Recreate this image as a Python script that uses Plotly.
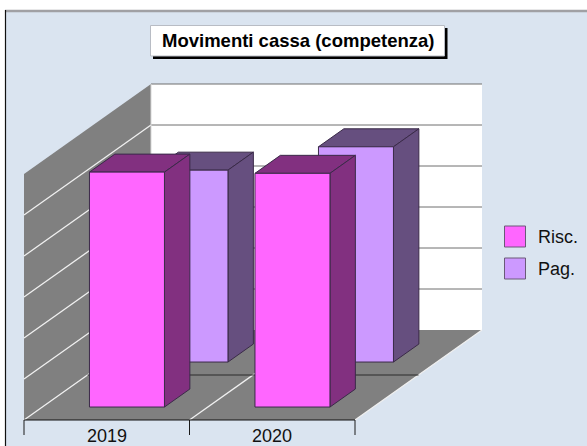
import plotly.graph_objects as go

# ---- data -------------------------------------------------------------
categories = ["2019", "2020"]
series_names = ["Risc.", "Pag."]
risc_values = [5730, 5700]
pag_values = [4680, 5250]
axis_max = 6000
grid_step = 1000

# ---- style ------------------------------------------------------------
BG = "#DAE4F0"
WALL = "#808080"
FRONT = {"Risc.": "#FF66FF", "Pag.": "#CC99FF"}
SIDE = {"Risc.": "#823080", "Pag.": "#664F7F"}
EDGE = "#3A2A48"
FONT = "Liberation Sans, Arial, sans-serif"

# ---- oblique projection: category position, depth (0-1), value -> page px
X0, Y0 = 24.0, 420.0      # front-left floor corner
CAT_W = 165.5             # width of one category
DX, DY = 127.0, 90.0      # depth shift
H = 246.0                 # wall height
BAR_W = 0.4532            # bar width, in category units
BAR_OFFSET = 0.285        # bar start inside its category
BAR_D = 0.2               # bar depth
ROW_D = [0.144, 0.644]    # depth where each series' row starts


def project(c, d, v):
    return (X0 + c * CAT_W + d * DX, Y0 - d * DY - v / axis_max * H)


def poly(points, fill, name, line=EDGE, width=1):
    pts = [project(*p) for p in points]
    xs = [p[0] for p in pts] + [pts[0][0]]
    ys = [p[1] for p in pts] + [pts[0][1]]
    return go.Scatter(x=xs, y=ys, mode="lines", fill="toself", fillcolor=fill,
                      line=dict(color=line, width=width), name=name,
                      showlegend=False, hoverinfo="skip")


def seg(a, b, color, width=1):
    pa, pb = project(*a), project(*b)
    return go.Scatter(x=[pa[0], pb[0]], y=[pa[1], pb[1]], mode="lines",
                      line=dict(color=color, width=width), showlegend=False,
                      hoverinfo="skip")


n = len(categories)
traces = []
# walls and floor
traces.append(poly([(0, 1, 0), (n, 1, 0), (n, 1, axis_max), (0, 1, axis_max)], "#FFFFFF", "back wall", line="#FFFFFF", width=0))
traces.append(poly([(0, 0, 0), (0, 1, 0), (0, 1, axis_max), (0, 0, axis_max)], WALL, "side wall", line=WALL, width=0))
traces.append(poly([(0, 0, 0), (n, 0, 0), (n, 1, 0), (0, 1, 0)], WALL, "floor", line=WALL, width=0))
# grid
for v in range(grid_step, axis_max + 1, grid_step):
    traces.append(seg((0, 1, v), (n, 1, v), "#6E6E6E", 1))
    if v < axis_max:
        traces.append(seg((0, 0, v), (0, 1, v), "#F0F0F0", 1.3))
traces.append(seg((0, 0, 0), (0, 1, 0), "#F0F0F0", 1.3))
for c in range(1, n + 1):
    traces.append(seg((c, 0, 0), (c, 1, 0), "#F0F0F0", 1.3))
traces.append(seg((0, 1, 0), (0, 1, axis_max), "#D8D8D8", 1))
traces.append(seg((0, 0.5, 0), (n, 0.5, 0), "#2A2A2A", 1))

# bars, back row first
rows = [("Risc.", risc_values, ROW_D[0]), ("Pag.", pag_values, ROW_D[1])]
for name, values, d0 in reversed(rows):
    for i, v in enumerate(values):
        c0 = i + BAR_OFFSET
        c1 = c0 + BAR_W
        d1 = d0 + BAR_D
        traces.append(poly([(c0, d0, v), (c1, d0, v), (c1, d1, v), (c0, d1, v)], SIDE[name], name))
        traces.append(poly([(c1, d0, 0), (c1, d1, 0), (c1, d1, v), (c1, d0, v)], SIDE[name], name))
        traces.append(poly([(c0, d0, 0), (c1, d0, 0), (c1, d0, v), (c0, d0, v)], FRONT[name], name))

# axis line and ticks
for c in range(n + 1):
    xt = project(c, 0, 0)[0]
    traces.append(go.Scatter(x=[xt, xt], y=[Y0, Y0 + 15], mode="lines",
                             line=dict(color="#1A1A1A", width=1), showlegend=False, hoverinfo="skip"))
traces.append(seg((0, 0, 0), (n, 0, 0), "#111111", 1.2))

fig = go.Figure(traces)

annotations = []
for i, label in enumerate(categories):
    annotations.append(dict(x=project(i + 0.5, 0, 0)[0], y=436, text=label, showarrow=False,
                            xref="x", yref="y", xanchor="center", yanchor="middle",
                            font=dict(family=FONT, size=18, color="#111111")))

shapes = [
    # panel borders
    dict(type="rect", xref="x", yref="y", x0=5, x1=587, y0=10, y1=446, fillcolor=BG, line_width=0, layer="below"),
    dict(type="line", xref="x", yref="y", x0=5, x1=587, y0=11, y1=11, line=dict(color="#A0A0A4", width=2.5), layer="below"),
    dict(type="line", xref="x", yref="y", x0=5.5, x1=5.5, y0=10, y1=446, line=dict(color="#111111", width=1.2), layer="below"),
    # title box
    dict(type="rect", xref="x", yref="y", x0=153, x1=447.5, y0=28, y1=59, fillcolor="#000000", line_width=0),
    dict(type="rect", xref="x", yref="y", x0=150.5, x1=444.5, y0=25.5, y1=56, fillcolor="#FFFFFF", line=dict(color="#B8BCC4", width=1)),
]
annotations.append(dict(x=297.5, y=40.5, text="<b>Movimenti cassa (competenza)</b>", showarrow=False,
                        xref="x", yref="y", xanchor="center", yanchor="middle",
                        font=dict(family=FONT, size=18.5, color="#000000")))

# legend
for k, name in enumerate(series_names):
    y0 = 226 + k * 32
    shapes.append(dict(type="rect", xref="x", yref="y", x0=504.5, x1=525.5, y0=y0, y1=y0 + 21,
                       fillcolor=FRONT[name], line=dict(color="#6A5A78", width=1)))
    annotations.append(dict(x=535.5, y=y0 + 10.5, text=name, showarrow=False, xref="x", yref="y",
                            xanchor="left", yanchor="middle",
                            font=dict(family=FONT, size=18, color="#111111")))

fig.update_layout(
    width=587, height=446, margin=dict(l=0, r=0, t=0, b=0),
    paper_bgcolor="#FFFFFF", plot_bgcolor="rgba(0,0,0,0)", showlegend=False,
    xaxis=dict(range=[0, 587], visible=False, fixedrange=True),
    yaxis=dict(range=[446, 0], visible=False, fixedrange=True),
    shapes=shapes, annotations=annotations,
)
fig.write_html("out.html", config={"displayModeBar": False},
               post_script="document.body.style.margin='0';document.documentElement.style.overflow='hidden';")
